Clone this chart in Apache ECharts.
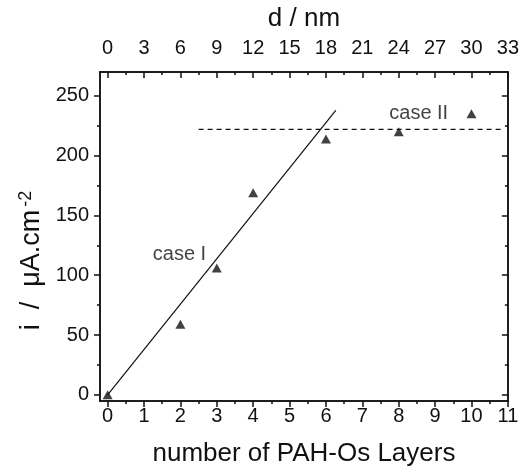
<!DOCTYPE html>
<html>
<head>
<meta charset="utf-8">
<script src="https://cdn.jsdelivr.net/npm/echarts@6/dist/echarts.min.js"></script>
<style>
  html, body { margin: 0; padding: 0; background: #fff; }
  #chart { width: 522px; height: 472px; }
</style>
</head>
<body>
<div id="chart"></div>
<script>
// Measured current density versus number of PAH-Os layers
const layers = [0, 2, 3, 4, 6, 8, 10];
const current = [0, 59, 106, 169, 214, 220, 235];

// Linear growth fit (case I) and plateau level (case II)
const fitLayers = [0, 6.27];
const fitCurrent = [0, 238];
const plateauLayers = [2.5, 10.83];
const plateauCurrent = [222, 222];

// Annotation labels
const caseNames = ['case I', 'case II'];
const caseLayers = [1.24, 7.74];
const caseCurrent = [117, 235];

// Tick values
const layerTicks = [0, 1, 2, 3, 4, 5, 6, 7, 8, 9, 10, 11];
const layerMinor = [0.5, 1.5, 2.5, 3.5, 4.5, 5.5, 6.5, 7.5, 8.5, 9.5, 10.5];
const dTicks = [0, 3, 6, 9, 12, 15, 18, 21, 24, 27, 30, 33];
const dMinor = [1.5, 4.5, 7.5, 10.5, 13.5, 16.5, 19.5, 22.5, 25.5, 28.5, 31.5];
const currentTicks = [0, 50, 100, 150, 200, 250];
const currentMinor = [25, 75, 125, 175, 225];

const layerMin = -0.21, layerMax = 11;
const nmPerLayer = 3;
const currentMin = -5.2, currentMax = 270;

const FONT = "'Liberation Sans', Arial, Helvetica, sans-serif";
const INK = '#111';
const lineStyle = { color: INK, width: 1.5 };

function axisBase(extra) {
  return Object.assign({
    type: 'value',
    splitLine: { show: false },
    axisLine: { show: true, onZero: false, lineStyle: lineStyle },
  }, extra);
}

const chart = echarts.init(document.getElementById('chart'), null, { renderer: 'canvas' });

chart.setOption({
  animation: false,
  backgroundColor: '#fff',
  textStyle: { fontFamily: FONT, color: INK },
  grid: { left: 100, right: 13, top: 72, bottom: 70 },
  xAxis: [
    axisBase({
      position: 'bottom', min: layerMin, max: layerMax,
      name: 'number of PAH-Os Layers', nameLocation: 'middle', nameGap: 40,
      nameTextStyle: { fontSize: 26, fontFamily: FONT, color: INK },
      axisTick: { show: true, inside: false, length: 6, lineStyle: lineStyle, customValues: layerTicks },
      axisLabel: { show: true, fontSize: 20, fontFamily: FONT, color: INK, margin: 5, customValues: layerTicks }
    }),
    axisBase({
      position: 'bottom', min: layerMin, max: layerMax,
      axisTick: { show: true, inside: false, length: 3, lineStyle: lineStyle, customValues: layerMinor },
      axisLabel: { show: false }
    }),
    axisBase({
      position: 'top', min: layerMin * nmPerLayer, max: layerMax * nmPerLayer,
      name: 'd / nm', nameLocation: 'middle', nameGap: 40,
      nameTextStyle: { fontSize: 26, fontFamily: FONT, color: INK },
      axisTick: { show: true, inside: true, length: 6, lineStyle: lineStyle, customValues: dTicks },
      axisLabel: { show: true, fontSize: 20, fontFamily: FONT, color: INK, margin: 14, customValues: dTicks }
    }),
    axisBase({
      position: 'top', min: layerMin * nmPerLayer, max: layerMax * nmPerLayer,
      axisTick: { show: true, inside: true, length: 3, lineStyle: lineStyle, customValues: dMinor },
      axisLabel: { show: false }
    })
  ],
  yAxis: [
    axisBase({
      position: 'left', min: currentMin, max: currentMax,
      name: '{m|i  /  μA.cm}{sup|-2}', nameLocation: 'middle', nameGap: 48, nameRotate: 90,
      nameTextStyle: {
        fontSize: 27, fontFamily: FONT, color: INK,
        padding: [0, 48, 0, 0],
        rich: {
          m: { fontSize: 27, fontFamily: FONT, color: INK, lineHeight: 28 },
          sup: { fontSize: 18, fontFamily: FONT, color: INK, verticalAlign: 'top', lineHeight: 28, padding: [0, 0, 0, 3] }
        }
      },
      axisTick: { show: true, inside: false, length: 6, lineStyle: lineStyle, customValues: currentTicks },
      axisLabel: { show: true, fontSize: 20, fontFamily: FONT, color: INK, margin: 11, customValues: currentTicks }
    }),
    axisBase({
      position: 'left', min: currentMin, max: currentMax,
      axisTick: { show: true, inside: false, length: 3, lineStyle: lineStyle, customValues: currentMinor },
      axisLabel: { show: false }
    }),
    axisBase({
      position: 'right', min: currentMin, max: currentMax,
      axisTick: { show: true, inside: true, length: 6, lineStyle: lineStyle, customValues: currentTicks },
      axisLabel: { show: false }
    }),
    axisBase({
      position: 'right', min: currentMin, max: currentMax,
      axisTick: { show: true, inside: true, length: 3, lineStyle: lineStyle, customValues: currentMinor },
      axisLabel: { show: false }
    })
  ],
  series: [
    {
      type: 'line', name: 'fit', xAxisIndex: 0, yAxisIndex: 0,
      data: fitLayers.map((x, i) => [x, fitCurrent[i]]),
      showSymbol: false, symbol: 'none',
      lineStyle: { color: INK, width: 1.2 }, silent: true, z: 2
    },
    {
      type: 'line', name: 'plateau', xAxisIndex: 0, yAxisIndex: 0,
      data: plateauLayers.map((x, i) => [x, plateauCurrent[i]]),
      showSymbol: false, symbol: 'none',
      lineStyle: { color: INK, width: 1.2, type: [5, 4] }, silent: true, z: 2
    },
    {
      type: 'scatter', name: 'current', xAxisIndex: 0, yAxisIndex: 0,
      data: layers.map((x, i) => [x, current[i]]),
      symbol: 'triangle', symbolSize: [10, 9],
      itemStyle: { color: INK }, z: 3
    },
    {
      type: 'scatter', name: 'cases', xAxisIndex: 0, yAxisIndex: 0,
      data: caseNames.map((n, i) => ({ name: n, value: [caseLayers[i], caseCurrent[i]] })),
      symbolSize: 0, silent: true,
      label: {
        show: true, position: 'right', distance: 0, formatter: '{b}',
        fontSize: 20, fontFamily: FONT, color: INK
      }
    }
  ]
});
</script>
</body>
</html>
